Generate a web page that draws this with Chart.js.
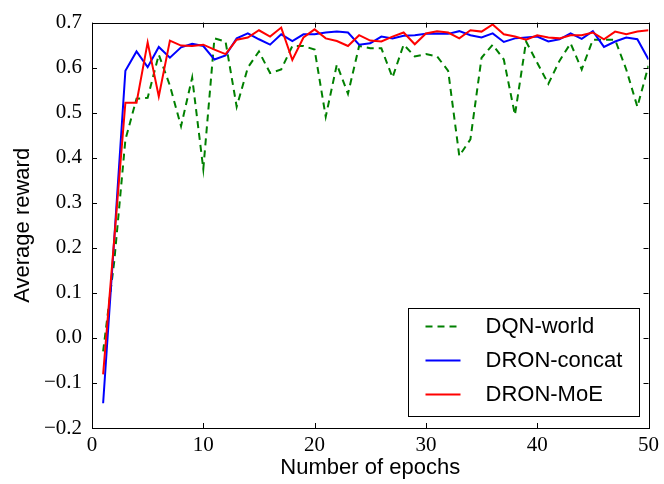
<!DOCTYPE html>
<html>
<head>
<meta charset="utf-8">
<script src="https://cdn.jsdelivr.net/npm/chart.js@4"></script>
<style>
  html, body { margin: 0; padding: 0; background: #fff; }
  #wrap { width: 664px; height: 484px; }
</style>
</head>
<body>
<div id="wrap"><canvas id="rewardChart" width="664" height="484"></canvas></div>
<script>
// epochs on the x axis
const epochs = [1, 2, 3, 4, 5, 6, 7, 8, 9, 10,
  11, 12, 13, 14, 15, 16, 17, 18, 19, 20,
  21, 22, 23, 24, 25, 26, 27, 28, 29, 30,
  31, 32, 33, 34, 35, 36, 37, 38, 39, 40,
  41, 42, 43, 44, 45, 46, 47, 48, 49, 50];

const dqnWorld = [-0.03, 0.17, 0.44, 0.531, 0.533, 0.629, 0.56, 0.47, 0.578, 0.375,
  0.665, 0.658, 0.513, 0.60, 0.636, 0.588, 0.596, 0.648, 0.648, 0.640,
  0.491, 0.607, 0.542, 0.648, 0.643, 0.643, 0.578, 0.651, 0.625, 0.630,
  0.625, 0.593, 0.404, 0.441, 0.622, 0.651, 0.618, 0.495, 0.658, 0.611,
  0.564, 0.615, 0.654, 0.596, 0.662, 0.662, 0.662, 0.596, 0.513, 0.604];

const dronConcat = [-0.145, 0.22, 0.593, 0.636, 0.601, 0.646, 0.622, 0.645, 0.653, 0.648,
  0.618, 0.627, 0.665, 0.676, 0.663, 0.651, 0.674, 0.659, 0.674, 0.674,
  0.678, 0.680, 0.678, 0.651, 0.654, 0.669, 0.665, 0.671, 0.672, 0.675,
  0.676, 0.675, 0.681, 0.672, 0.667, 0.676, 0.657, 0.665, 0.667, 0.669,
  0.658, 0.663, 0.676, 0.664, 0.681, 0.646, 0.658, 0.667, 0.663, 0.618];

const dronMoE = [-0.081, 0.22, 0.522, 0.522, 0.656, 0.536, 0.660, 0.649, 0.648, 0.651,
  0.640, 0.630, 0.662, 0.667, 0.683, 0.669, 0.689, 0.617, 0.667, 0.685,
  0.665, 0.659, 0.648, 0.672, 0.660, 0.658, 0.669, 0.678, 0.652, 0.676,
  0.681, 0.678, 0.665, 0.683, 0.680, 0.696, 0.674, 0.669, 0.662, 0.672,
  0.667, 0.665, 0.672, 0.672, 0.678, 0.663, 0.680, 0.674, 0.680, 0.683];

const seriesNames = ["DQN-world", "DRON-concat", "DRON-MoE"];
const xTicks = [0, 10, 20, 30, 40, 50];
const yTicks = [-0.2, -0.1, 0.0, 0.1, 0.2, 0.3, 0.4, 0.5, 0.6, 0.7];

function toPoints(values) {
    return values.map((v, i) => ({ x: epochs[i], y: v }));
}

function fmtY(v) {
    if (Math.abs(v) < 1e-9) return "0.0";
    return v.toFixed(1).replace("-", "\u2212");
}

// box round the plot with inward ticks on all four sides
const framePlugin = {
    id: "frame",
    afterDatasetsDraw(chart) {
        const ctx = chart.ctx;
        const a = chart.chartArea;
        const xs = chart.scales.x, ys = chart.scales.y;
        const tick = 5;
        ctx.save();
        ctx.strokeStyle = "#000";
        ctx.lineWidth = 1;
        ctx.beginPath();
        xTicks.forEach(t => {
            const px = Math.round(xs.getPixelForValue(t)) + 0.5;
            ctx.moveTo(px, a.bottom); ctx.lineTo(px, a.bottom - tick);
            ctx.moveTo(px, a.top); ctx.lineTo(px, a.top + tick);
        });
        yTicks.forEach(t => {
            const py = Math.round(ys.getPixelForValue(t)) + 0.5;
            ctx.moveTo(a.left, py); ctx.lineTo(a.left + tick, py);
            ctx.moveTo(a.right, py); ctx.lineTo(a.right - tick, py);
        });
        ctx.stroke();
        ctx.strokeRect(Math.round(a.left) + 0.5, Math.round(a.top) + 0.5,
            Math.round(a.right - a.left), Math.round(a.bottom - a.top));
        ctx.restore();
    }
};

// legend box in the lower right of the plot
const legendPlugin = {
    id: "innerLegend",
    afterDraw(chart) {
        const ctx = chart.ctx;
        const a = chart.chartArea;
        const boxW = 231, boxH = 108;
        const bx = Math.round(a.right - 10 - boxW) + 0.5;
        const by = Math.round(a.bottom - 12 - boxH) + 0.5;
        ctx.save();
        ctx.fillStyle = "#fff";
        ctx.fillRect(bx, by, boxW, boxH);
        ctx.strokeStyle = "#000";
        ctx.lineWidth = 1;
        ctx.strokeRect(bx, by, boxW, boxH);
        ctx.font = "22px 'Liberation Sans', Arial, sans-serif";
        ctx.textBaseline = "middle";
        ctx.fillStyle = "#000";
        chart.data.datasets.forEach((ds, i) => {
            const rowY = by + 18 + i * 34;
            ctx.beginPath();
            ctx.strokeStyle = ds.borderColor;
            ctx.lineWidth = 2;
            ctx.setLineDash(ds.borderDash || []);
            ctx.moveTo(bx + 17, rowY);
            ctx.lineTo(bx + 52, rowY);
            ctx.stroke();
            ctx.setLineDash([]);
            ctx.fillText(ds.label, bx + 77, rowY);
        });
        ctx.restore();
    }
};

const ctx = document.getElementById("rewardChart").getContext("2d");
new Chart(ctx, {
    type: "line",
    data: {
        datasets: [
            {
                label: seriesNames[0],
                data: toPoints(dqnWorld),
                borderColor: "#008000",
                borderWidth: 2,
                borderDash: [7, 5],
                pointRadius: 0,
                tension: 0,
                order: 3
            },
            {
                label: seriesNames[1],
                data: toPoints(dronConcat),
                borderColor: "#0000ff",
                borderWidth: 2,
                pointRadius: 0,
                tension: 0,
                order: 2
            },
            {
                label: seriesNames[2],
                data: toPoints(dronMoE),
                borderColor: "#ff0000",
                borderWidth: 2,
                pointRadius: 0,
                tension: 0,
                order: 1
            }
        ]
    },
    options: {
        responsive: false,
        animation: false,
        events: [],
        layout: { padding: { top: 14, right: 14, left: 0, bottom: 0 } },
        plugins: {
            legend: { display: false },
            tooltip: { enabled: false }
        },
        scales: {
            x: {
                type: "linear",
                min: 0,
                max: 50,
                afterBuildTicks: s => { s.ticks = xTicks.map(v => ({ value: v })); },
                afterFit: s => { s.height = 56; },
                grid: { display: false, drawTicks: false },
                border: { display: false },
                ticks: {
                    padding: 5,
                    maxRotation: 0,
                    color: "#000",
                    font: { family: "'Liberation Serif', 'DejaVu Serif', serif", size: 21 }
                },
                title: {
                    display: true,
                    text: "Number of epochs",
                    color: "#000",
                    padding: { top: 0, bottom: 3 },
                    font: { family: "'Liberation Sans', Arial, sans-serif", size: 22 }
                }
            },
            y: {
                type: "linear",
                min: -0.2,
                max: 0.7,
                afterBuildTicks: s => { s.ticks = yTicks.map(v => ({ value: v })); },
                afterFit: s => { s.width = 92; },
                grid: { display: false, drawTicks: false },
                border: { display: false },
                ticks: {
                    padding: 10,
                    color: "#000",
                    callback: v => fmtY(v),
                    font: { family: "'Liberation Serif', 'DejaVu Serif', serif", size: 21 }
                },
                title: {
                    display: true,
                    text: "Average reward",
                    color: "#000",
                    padding: { top: 10, bottom: 0 },
                    font: { family: "'Liberation Sans', Arial, sans-serif", size: 22 }
                }
            }
        }
    },
    plugins: [framePlugin, legendPlugin]
});
</script>
</body>
</html>
